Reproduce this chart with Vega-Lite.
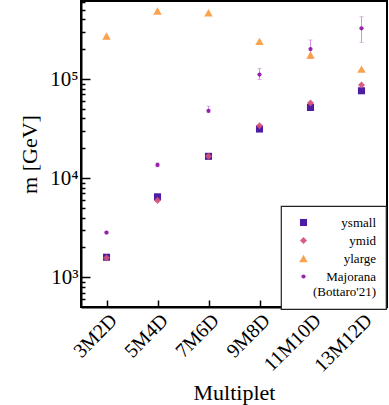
{
  "$schema": "https://vega.github.io/schema/vega-lite/v6.json",
  "width": 306,
  "height": 306,
  "autosize": "none",
  "padding": {"left": 81, "top": 1, "right": 2, "bottom": 98},
  "background": "white",
  "config": {
    "view": {"stroke": "black", "strokeWidth": 2},
    "font": "Liberation Serif",
    "legend": {"strokeWidth": 1.2},
    "axis": {
      "grid": false,
      "domainColor": "black",
      "domainWidth": 2,
      "tickColor": "black",
      "tickWidth": 1.5,
      "labelColor": "black",
      "titleColor": "black",
      "labelFont": "Liberation Serif",
      "titleFont": "Liberation Serif",
      "titleFontWeight": "normal"
    }
  },
  "data": {
    "values": [
      {"multiplet": "3M2D", "series": "ysmall", "m": 1590},
      {"multiplet": "5M4D", "series": "ysmall", "m": 6480},
      {"multiplet": "7M6D", "series": "ysmall", "m": 16600},
      {"multiplet": "9M8D", "series": "ysmall", "m": 31300},
      {"multiplet": "11M10D", "series": "ysmall", "m": 51700},
      {"multiplet": "13M12D", "series": "ysmall", "m": 76200},
      {"multiplet": "3M2D", "series": "ymid", "m": 1560},
      {"multiplet": "5M4D", "series": "ymid", "m": 5960},
      {"multiplet": "7M6D", "series": "ymid", "m": 16600},
      {"multiplet": "9M8D", "series": "ymid", "m": 33800},
      {"multiplet": "11M10D", "series": "ymid", "m": 57300},
      {"multiplet": "13M12D", "series": "ymid", "m": 87000},
      {"multiplet": "3M2D", "series": "ylarge", "m": 272000},
      {"multiplet": "5M4D", "series": "ylarge", "m": 487000},
      {"multiplet": "7M6D", "series": "ylarge", "m": 467000},
      {"multiplet": "9M8D", "series": "ylarge", "m": 240000},
      {"multiplet": "11M10D", "series": "ylarge", "m": 175000},
      {"multiplet": "13M12D", "series": "ylarge", "m": 126000},
      {"multiplet": "3M2D", "series": "Majorana (Bottaro'21)", "m": 2820, "lo": 2750, "hi": 2890},
      {"multiplet": "5M4D", "series": "Majorana (Bottaro'21)", "m": 13600, "lo": 13000, "hi": 14200},
      {"multiplet": "7M6D", "series": "Majorana (Bottaro'21)", "m": 47800, "lo": 45800, "hi": 53400},
      {"multiplet": "9M8D", "series": "Majorana (Bottaro'21)", "m": 111000, "lo": 99000, "hi": 128000},
      {"multiplet": "11M10D", "series": "Majorana (Bottaro'21)", "m": 201000, "lo": 162000, "hi": 248000},
      {"multiplet": "13M12D", "series": "Majorana (Bottaro'21)", "m": 325000, "lo": 235000, "hi": 426000}
    ]
  },
  "encoding": {
    "x": {
      "field": "multiplet",
      "type": "ordinal",
      "sort": ["3M2D", "5M4D", "7M6D", "9M8D", "11M10D", "13M12D"],
      "scale": {"type": "point", "padding": 0.5},
      "axis": {
        "title": "Multiplet",
        "titleFontSize": 22,
        "titlePadding": 7,
        "labelFontSize": 20,
        "labelAngle": -45,
        "tickSize": -7,
        "labelPadding": 10
      }
    }
  },
  "layer": [
    {
      "transform": [{"filter": "datum.series == \"Majorana (Bottaro'21)\""}],
      "mark": {"type": "rule", "color": "#cf96dc", "strokeWidth": 1},
      "encoding": {
        "y": {"field": "lo", "type": "quantitative", "scale": {"type": "log", "domain": [500, 614000], "nice": false}},
        "y2": {"field": "hi"}
      }
    },
    {
      "transform": [{"filter": "datum.series == \"Majorana (Bottaro'21)\""}],
      "mark": {"type": "tick", "color": "#cf96dc", "size": 4, "thickness": 1},
      "encoding": {
        "y": {"field": "lo", "type": "quantitative"}
      }
    },
    {
      "transform": [{"filter": "datum.series == \"Majorana (Bottaro'21)\""}],
      "mark": {"type": "tick", "color": "#cf96dc", "size": 4, "thickness": 1},
      "encoding": {
        "y": {"field": "hi", "type": "quantitative"}
      }
    },
    {
      "mark": {"type": "point", "filled": true, "opacity": 0.92},
      "encoding": {
        "y": {
          "field": "m",
          "type": "quantitative",
          "scale": {"type": "log", "domain": [500, 614000], "nice": false},
          "axis": {
            "title": "m [GeV]",
            "titleFontSize": 22,
            "titlePadding": 8,
            "labelFontSize": 21,
            "labelPadding": 12,
            "values": [600, 700, 800, 900, 1000, 2000, 3000, 4000, 5000, 6000, 7000, 8000, 9000, 10000, 20000, 30000, 40000, 50000, 60000, 70000, 80000, 90000, 100000, 200000, 300000, 400000, 500000, 600000],
            "labelExpr": "datum.value == 1000 ? '10³' : datum.value == 10000 ? '10⁴' : datum.value == 100000 ? '10⁵' : ''",
            "tickSize": {"condition": {"test": "datum.value == 1000 || datum.value == 10000 || datum.value == 100000", "value": -9}, "value": -4}
          }
        },
        "color": {
          "field": "series",
          "type": "nominal",
          "scale": {"domain": ["ysmall", "ymid", "ylarge", "Majorana (Bottaro'21)"], "range": ["#3d0a9c", "#d4507a", "#fb9a3f", "#8e14a6"]},
          "legend": {
            "title": null,
            "orient": "none",
            "legendX": 200,
            "legendY": 205,
            "padding": 10,
            "fillColor": "white",
            "strokeColor": "#222222",
            "cornerRadius": 0,
            "labelFontSize": 13,
            "labelFont": "Liberation Serif",
            "labelColor": "black",
            "labelAlign": "right",
            "labelOffset": 66,
            "symbolOffset": 6,
            "rowPadding": 4,
            "labelExpr": "datum.value == \"Majorana (Bottaro'21)\" ? ['Majorana', \"(Bottaro'21)\"] : datum.label"
          }
        },
        "shape": {
          "field": "series",
          "type": "nominal",
          "scale": {"domain": ["ysmall", "ymid", "ylarge", "Majorana (Bottaro'21)"], "range": ["square", "diamond", "triangle-up", "circle"]}
        },
        "size": {
          "field": "series",
          "type": "nominal",
          "scale": {"type": "ordinal", "domain": ["ysmall", "ymid", "ylarge", "Majorana (Bottaro'21)"], "range": [50, 50, 72, 18]},
          "legend": null
        }
      }
    }
  ]
}
